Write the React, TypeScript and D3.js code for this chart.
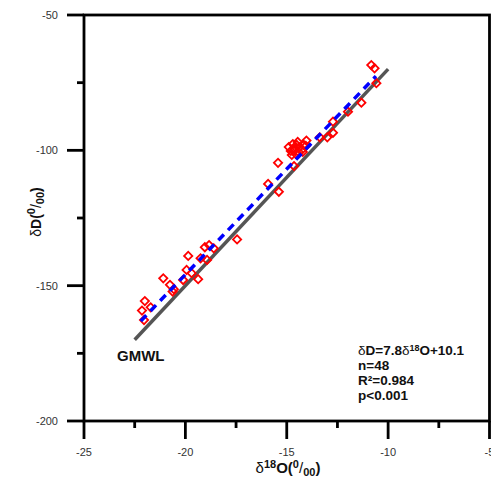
import React, { useEffect, useRef } from 'react';
import * as d3 from 'd3';

// δ18O (x) and δD (y)
const d18O = [
  -22.14, -22.04, -22.0, -21.71, -21.09, -20.76, -20.57, -20.63, -20.11, -19.86,
  -19.94, -19.69, -19.37, -19.25, -19.04, -18.93, -18.83, -18.6, -17.45, -15.92,
  -15.39, -15.43, -14.64, -14.9, -14.8, -14.7, -14.61, -14.51, -14.41, -14.36,
  -14.26, -14.16, -14.56, -14.75, -14.21, -14.06, -14.46, -14.66, -14.03, -13.37,
  -13.0, -12.72, -12.72, -11.98, -11.32, -10.58, -10.83, -10.67,
];
const dD = [
  -159.2, -162.7, -155.7, -158.0, -147.3, -149.7, -151.3, -152.2, -147.9, -139.0,
  -144.2, -145.4, -147.6, -139.9, -135.8, -140.5, -135.0, -136.2, -132.9, -112.4,
  -115.3, -104.6, -105.8, -98.8, -100.2, -97.7, -99.5, -98.0, -100.6, -98.8,
  -99.9, -98.0, -101.3, -101.7, -100.6, -98.4, -96.9, -100.2, -96.4, -95.2,
  -95.2, -93.5, -89.4, -85.7, -82.4, -75.2, -68.5, -69.7,
];

const xTicks = [-25, -20, -15, -10, -5];
const yTicks = [-200, -150, -100, -50];
const xMinor = [-22.5, -17.5, -12.5, -7.5];
const yMinor = [-175, -125, -75];

// GMWL: δD = 8δ18O + 10 ; local fit: δD = 7.8δ18O + 10.1
const gmwl = { slope: 8, intercept: 10, from: -22.5, to: -10 };
const fit = { slope: 7.8, intercept: 10.1, from: -22.2, to: -10.6 };
const statsLines = ['n=48', 'R²=0.984', 'p<0.001'];

const W = 491;
const H = 491;

export default function App() {
  const ref = useRef<SVGSVGElement | null>(null);

  useEffect(() => {
    const svg = d3.select(ref.current);
    svg.selectAll('*').remove();

    const x = d3.scaleLinear().domain([-25, -5]).range([84, 489.5]);
    const y = d3.scaleLinear().domain([-200, -50]).range([421, 15]);
    const font = 'Arial, "Liberation Sans", sans-serif';

    // frame
    svg.append('rect')
      .attr('x', x(-25)).attr('y', y(-50))
      .attr('width', x(-5) - x(-25)).attr('height', y(-200) - y(-50))
      .attr('fill', 'none').attr('stroke', '#000').attr('stroke-width', 2.8);

    // y axis ticks
    const yAxis = svg.append('g');
    yAxis.selectAll('line.maj').data(yTicks).enter().append('line')
      .attr('x1', x(-25) - 17).attr('x2', x(-25))
      .attr('y1', d => y(d)).attr('y2', d => y(d))
      .attr('stroke', '#000').attr('stroke-width', 2.8);
    yAxis.selectAll('line.min').data(yMinor).enter().append('line')
      .attr('x1', x(-25) - 7).attr('x2', x(-25))
      .attr('y1', d => y(d)).attr('y2', d => y(d))
      .attr('stroke', '#000').attr('stroke-width', 2.8);
    yAxis.selectAll('text').data(yTicks).enter().append('text')
      .attr('x', 58).attr('y', d => y(d) + 4)
      .attr('text-anchor', 'end').attr('font-family', font).attr('font-size', 11)
      .attr('fill', '#333').text(d => d);

    // x axis ticks
    const xAxis = svg.append('g');
    xAxis.selectAll('line.maj').data(xTicks).enter().append('line')
      .attr('x1', d => x(d)).attr('x2', d => x(d))
      .attr('y1', y(-200)).attr('y2', y(-200) + 18)
      .attr('stroke', '#000').attr('stroke-width', 2.8);
    xAxis.selectAll('line.min').data(xMinor).enter().append('line')
      .attr('x1', d => x(d)).attr('x2', d => x(d))
      .attr('y1', y(-200)).attr('y2', y(-200) + 7)
      .attr('stroke', '#000').attr('stroke-width', 2.8);
    xAxis.selectAll('text').data(xTicks).enter().append('text')
      .attr('x', d => x(d)).attr('y', 456)
      .attr('text-anchor', 'middle').attr('font-family', font).attr('font-size', 11)
      .attr('fill', '#333').text(d => d);

    // axis titles
    const xt = svg.append('text')
      .attr('x', 288).attr('y', 473).attr('text-anchor', 'middle')
      .attr('font-family', font).attr('font-size', 15).attr('font-weight', 'bold').attr('fill', '#111');
    xt.append('tspan').attr('font-weight', 'normal').text('δ');
    xt.append('tspan').attr('font-size', 11).attr('dy', -5).text('18');
    xt.append('tspan').attr('dy', 5).text('O(');
    xt.append('tspan').attr('font-size', 11).attr('dy', -5).text('0');
    xt.append('tspan').attr('font-weight', 'normal').attr('dy', 5).text('/');
    xt.append('tspan').attr('font-size', 11).attr('dy', 3).text('00');
    xt.append('tspan').attr('dy', -3).text(')');

    const yt = svg.append('text')
      .attr('transform', 'translate(41,212) rotate(-90)').attr('text-anchor', 'middle')
      .attr('font-family', font).attr('font-size', 14).attr('font-weight', 'bold').attr('fill', '#111');
    yt.append('tspan').attr('font-weight', 'normal').text('δ');
    yt.append('tspan').text('D(');
    yt.append('tspan').attr('font-size', 11).attr('dy', -6).text('0');
    yt.append('tspan').attr('font-weight', 'normal').attr('dy', 6).text('/');
    yt.append('tspan').attr('font-size', 11).attr('dy', 3).text('00');
    yt.append('tspan').attr('dy', -3).text(')');

    const line = d3.line<number>().x(d => x(d[0])).y(d => y(d[1]));

    // GMWL
    svg.append('path')
      .attr('d', line([
        [gmwl.from, gmwl.slope * gmwl.from + gmwl.intercept],
        [gmwl.to, gmwl.slope * gmwl.to + gmwl.intercept],
      ] as any))
      .attr('stroke', '#555').attr('stroke-width', 3.5).attr('fill', 'none');

    // points
    const sym = d3.symbol().type(d3.symbolSquare).size(34);
    svg.append('g').selectAll('path').data(d18O).enter().append('path')
      .attr('d', sym() as string)
      .attr('transform', (d, i) => `translate(${x(d)},${y(dD[i])}) rotate(45)`)
      .attr('fill', 'none').attr('stroke', '#ff0000').attr('stroke-width', 1.8);

    // local fit line
    svg.append('path')
      .attr('d', line([
        [fit.from, fit.slope * fit.from + fit.intercept],
        [fit.to, fit.slope * fit.to + fit.intercept],
      ] as any))
      .attr('stroke', '#0000ff').attr('stroke-width', 3.5).attr('fill', 'none')
      .attr('stroke-dasharray', '8,6');

    // labels
    svg.append('text')
      .attr('x', 117).attr('y', 361).attr('font-family', font)
      .attr('font-size', 15).attr('font-weight', 'bold').attr('fill', '#111').text('GMWL');

    const st = svg.append('g').attr('font-family', font).attr('font-size', 13.5)
      .attr('font-weight', 'bold').attr('fill', '#111');
    const eq = st.append('text').attr('x', 358).attr('y', 355);
    eq.append('tspan').attr('font-weight', 'normal').text('δ');
    eq.append('tspan').text('D=7.8');
    eq.append('tspan').attr('font-weight', 'normal').text('δ');
    eq.append('tspan').attr('font-size', 9).attr('dy', -4).text('18');
    eq.append('tspan').attr('dy', 4).text('O+10.1');
    st.selectAll('text.s').data(statsLines).enter().append('text')
      .attr('x', 358).attr('y', (d, i) => 370 + i * 15).text(d => d);
  }, []);

  return (
    <svg ref={ref} width={W} height={H}
      style={{ position: 'absolute', left: 0, top: 0, background: '#fff' }} />
  );
}
